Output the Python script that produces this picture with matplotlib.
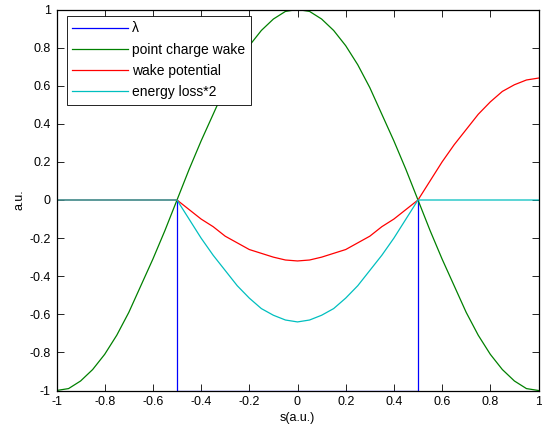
import numpy as np
import matplotlib.pyplot as plt
from matplotlib.ticker import FormatStrFormatter

plt.rcParams['font.family'] = ['Liberation Sans', 'DejaVu Sans']
plt.rcParams['axes.unicode_minus'] = False

# sample positions read along the s axis
s = np.round(np.arange(-1, 1.0001, 0.05), 2)

# point charge wake
wake = [-1.0, -0.99, -0.95, -0.89, -0.81, -0.71, -0.59, -0.45, -0.31, -0.16,
        0.0, 0.16, 0.31, 0.45, 0.59, 0.71, 0.81, 0.89, 0.95, 0.99,
        1.0,
        0.99, 0.95, 0.89, 0.81, 0.71, 0.59, 0.45, 0.31, 0.16, 0.0,
        -0.16, -0.31, -0.45, -0.59, -0.71, -0.81, -0.89, -0.95, -0.99, -1.0]

# wake potential
wpot = [0, 0, 0, 0, 0, 0, 0, 0, 0, 0,
        0.0, -0.05, -0.10, -0.14, -0.19, -0.225, -0.26, -0.28, -0.30, -0.315,
        -0.32,
        -0.315, -0.30, -0.28, -0.26, -0.225, -0.19, -0.14, -0.10, -0.05, 0.0,
        0.10, 0.20, 0.29, 0.37, 0.45, 0.515, 0.57, 0.605, 0.63, 0.64]

# energy loss * 2
eloss = [0, 0, 0, 0, 0, 0, 0, 0, 0, 0,
         0.0, -0.10, -0.20, -0.29, -0.37, -0.45, -0.515, -0.57, -0.605, -0.63,
         -0.64,
         -0.63, -0.605, -0.57, -0.515, -0.45, -0.37, -0.29, -0.20, -0.10, 0.0,
         0, 0, 0, 0, 0, 0, 0, 0, 0, 0]

# line charge density (rectangular bunch, visible part)
s_lam = [-0.5, -0.5, 0.5, 0.5]
lam = [0, -1, -1, 0]

ticks = np.round(np.arange(-1, 1.01, 0.2), 1) + 0.0

fig = plt.figure(figsize=(5.42, 4.33), dpi=100)
ax = fig.add_axes([56.5 / 542, 42.5 / 433, 482 / 542, 381 / 433])

ax.plot(s_lam, lam, color=(0, 0, 1), lw=0.9, label='\u03bb')
ax.plot(s, wake, color=(0, 0.5, 0), lw=0.9, label='point charge wake')
ax.plot(s, wpot, color=(1, 0, 0), lw=0.9, label='wake potential')
ax.plot(s, eloss, color=(0, 0.75, 0.75), lw=0.9, label='energy loss*2')

ax.set_xlim(-1, 1)
ax.set_ylim(-1, 1)
ax.set_xticks(ticks)
ax.set_yticks(ticks)
ax.xaxis.set_major_formatter(FormatStrFormatter('%g'))
ax.yaxis.set_major_formatter(FormatStrFormatter('%g'))
ax.tick_params(direction='in', top=True, right=True, length=5, width=0.6, labelsize=9, pad=4)
for sp in ax.spines.values():
    sp.set_linewidth(0.9)

ax.set_xlabel('s(a.u.)', fontsize=9, labelpad=3)
ax.set_ylabel('a.u.', fontsize=9, labelpad=3)

leg = ax.legend(loc='upper left', bbox_to_anchor=(0.021, 0.984), borderaxespad=0,
                fontsize=10, fancybox=False, edgecolor='black', framealpha=1,
                handlelength=4.0, handletextpad=0.3, labelspacing=0.52, borderpad=0.42)
leg.get_frame().set_linewidth(0.6)

fig.savefig('out.png', dpi=100)
